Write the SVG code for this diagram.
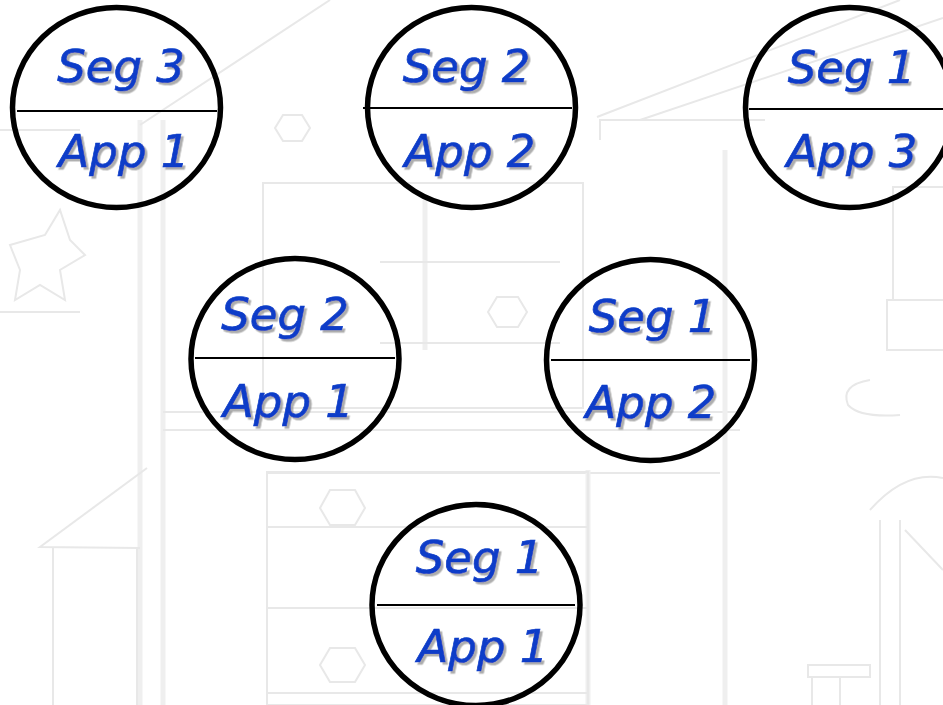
<svg xmlns="http://www.w3.org/2000/svg" width="943" height="705" viewBox="0 0 943 705">
<defs>
<style>
.bg{fill:none;stroke:#e8e8e8;stroke-width:2}
.bgt{fill:none;stroke:#efefef;stroke-width:5}
.ring{fill:none;stroke:#000;stroke-width:5.5}
.div{stroke:#000;stroke-width:2}
.lbl{font-family:"DejaVu Sans",sans-serif;font-style:italic;font-size:45px;fill:#0a3cc8;stroke:#0a3cc8;stroke-width:0.7;text-anchor:middle;filter:url(#sh)}
</style>
<filter id="sh" x="-10%" y="-20%" width="130%" height="150%">
<feDropShadow dx="2.5" dy="2.5" stdDeviation="0.6" flood-color="#8a8a8a" flood-opacity="0.7"/>
</filter>
</defs>
<rect width="943" height="705" fill="#ffffff"/>
<g id="background">
<line class="bgt" x1="140" y1="120" x2="140" y2="705"/>
<line class="bgt" x1="163" y1="120" x2="163" y2="705"/>
<line class="bg" x1="163" y1="412" x2="740" y2="412"/>
<line class="bg" x1="163" y1="430" x2="740" y2="430"/>
<line class="bg" x1="267" y1="473" x2="720" y2="473"/>
<line class="bgt" x1="725" y1="150" x2="725" y2="705"/>
<line class="bgt" x1="588" y1="470" x2="588" y2="705"/>
<rect class="bg" x="267" y="472" width="321" height="233"/>
<line class="bg" x1="267" y1="527" x2="588" y2="527"/>
<line class="bg" x1="267" y1="608" x2="588" y2="608"/>
<line class="bg" x1="267" y1="693" x2="588" y2="693"/>
<polygon class="bg" points="320,508 330,490 355,490 365,508 355,525 330,525"/>
<polygon class="bg" points="320,665 330,648 355,648 365,665 355,682 330,682"/>
<polyline class="bg" points="147,468 40,547 140,548"/>
<line class="bg" x1="53" y1="548" x2="53" y2="705"/>
<line class="bg" x1="137" y1="548" x2="137" y2="705"/>
<line class="bg" x1="597" y1="117" x2="900" y2="0"/>
<line class="bg" x1="640" y1="120" x2="943" y2="18"/>
<polyline class="bg" points="600,140 600,120 765,120"/>
<line class="bg" x1="140" y1="125" x2="330" y2="0"/>
<rect class="bg" x="263" y="183" width="320" height="225"/>
<line class="bgt" x1="425" y1="200" x2="425" y2="350"/>
<line class="bg" x1="380" y1="262" x2="560" y2="262"/>
<line class="bg" x1="380" y1="343" x2="560" y2="343"/>
<polygon class="bg" points="488,312 497,297 518,297 527,312 518,327 497,327"/>
<polygon class="bg" points="275,128 283,115 302,115 310,128 302,141 283,141"/>
<rect class="bg" x="893" y="187" width="60" height="113"/>
<rect class="bg" x="887" y="300" width="60" height="50"/>
<path class="bg" d="M870,510 Q905,470 943,478"/>
<line class="bg" x1="880" y1="520" x2="880" y2="705"/>
<line class="bg" x1="900" y1="520" x2="900" y2="705"/>
<line class="bg" x1="905" y1="530" x2="943" y2="570"/>
<rect class="bg" x="808" y="665" width="62" height="12"/>
<line class="bg" x1="812" y1="677" x2="812" y2="705"/>
<line class="bg" x1="840" y1="677" x2="840" y2="705"/>
<path class="bg" d="M870,380 Q840,385 848,405 Q860,418 900,415"/>
<path class="bg" d="M10,245 L45,235 L60,210 L70,240 L85,255 L60,270 L65,300 L40,285 L15,300 L20,270 Z"/>
<line class="bg" x1="0" y1="312" x2="80" y2="312"/>
<line class="bg" x1="0" y1="130" x2="80" y2="130"/>
</g>
<g id="connectors"></g>
<g id="n1">
<ellipse class="ring" cx="116.5" cy="107.5" rx="104" ry="100"/>
<line class="div" x1="17" y1="111" x2="217" y2="111"/>
<text class="lbl" x="121" y="82">Seg 3</text>
<text class="lbl" x="124" y="167">App 1</text>
</g>
<g id="n2">
<ellipse class="ring" cx="471.5" cy="107.5" rx="104" ry="100"/>
<line class="div" x1="363" y1="108" x2="572" y2="108"/>
<text class="lbl" x="466.5" y="82">Seg 2</text>
<text class="lbl" x="470" y="167">App 2</text>
</g>
<g id="n3">
<ellipse class="ring" cx="849.5" cy="107.5" rx="104" ry="100"/>
<line class="div" x1="749" y1="109" x2="943" y2="109"/>
<text class="lbl" x="851.5" y="83">Seg 1</text>
<text class="lbl" x="852" y="167">App 3</text>
</g>
<g id="n4">
<ellipse class="ring" cx="295" cy="359" rx="104" ry="100.5"/>
<line class="div" x1="195" y1="358" x2="395" y2="358"/>
<text class="lbl" x="285" y="330">Seg 2</text>
<text class="lbl" x="288.5" y="417">App 1</text>
</g>
<g id="n5">
<ellipse class="ring" cx="650.5" cy="360" rx="104" ry="100.5"/>
<line class="div" x1="551" y1="360" x2="750" y2="360"/>
<text class="lbl" x="652.5" y="332">Seg 1</text>
<text class="lbl" x="651" y="418">App 2</text>
</g>
<g id="n6">
<ellipse class="ring" cx="476" cy="605" rx="104" ry="100.5"/>
<line class="div" x1="377" y1="605" x2="575" y2="605"/>
<text class="lbl" x="479.5" y="573">Seg 1</text>
<text class="lbl" x="483" y="662">App 1</text>
</g>
</svg>
